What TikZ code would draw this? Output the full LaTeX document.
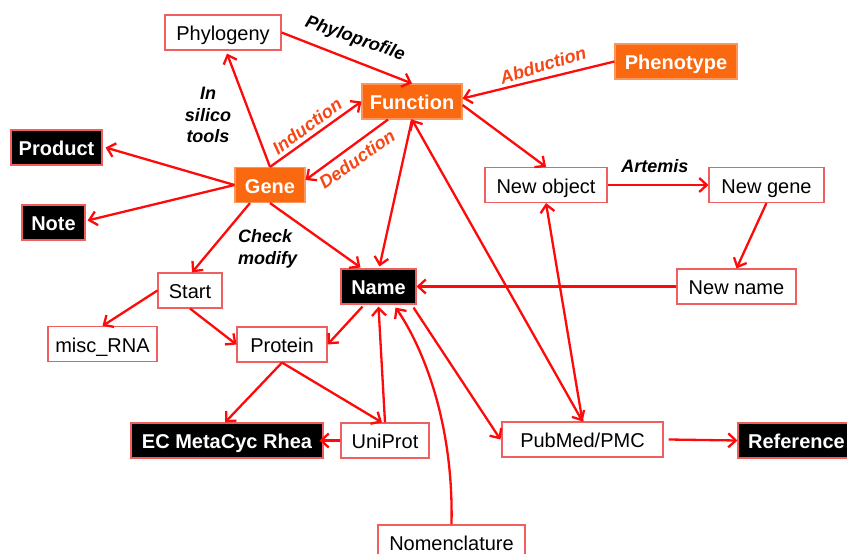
\documentclass[tikz,border=0pt]{standalone}
\usepackage{fontspec}
\setmainfont{Liberation Sans}
\usetikzlibrary{arrows.meta,calc}
\definecolor{lred}{RGB}{255,10,10}
\definecolor{boxred}{RGB}{240,95,95}
\definecolor{ofill}{RGB}{250,104,16}
\definecolor{oline}{RGB}{252,150,90}
\definecolor{olab}{RGB}{245,72,22}
\tikzset{
  wbox/.style={draw=boxred, fill=white, line width=1.1pt, minimum height=35pt, inner sep=0pt,
    text height=18pt, text depth=2pt, font=\fontsize{20}{24}\selectfont},
  bbox/.style={wbox, fill=black, text=white, font=\fontsize{20}{24}\selectfont\bfseries},
  obox/.style={wbox, draw=oline, fill=ofill, text=white, font=\fontsize{20}{24}\selectfont\bfseries},
  elab/.style={inner sep=0pt, font=\fontsize{18}{21.5}\selectfont\bfseries\itshape},
  olabel/.style={elab, text=olab},
  arr/.style={draw=lred, line width=2.3pt, -{Straight Barb[length=7.5pt,width=14pt]}},
  arrb/.style={draw=lred, line width=2.3pt, {Straight Barb[length=7.5pt,width=14pt]}-{Straight Barb[length=7.5pt,width=14pt]}}
}
\begin{document}
\begin{tikzpicture}[x=1pt,y=-1pt]
\useasboundingbox (0,0) rectangle (847,554);
\fill[white] (0,0) rectangle (847,554);

% nodes
\node[wbox, minimum width=116pt] (phylo) at (223,32.5) {Phylogeny};
\node[obox, minimum width=100pt] (func) at (412,101.5) {Function};
\node[obox, minimum width=122pt] (pheno) at (676,61.5) {Phenotype};
\node[obox, minimum width=70pt] (gene) at (270,185) {Gene};
\node[bbox, minimum width=91pt] (product) at (56.5,147.5) {Product};
\node[bbox, minimum width=63pt] (note) at (53.5,222.5) {Note};
\node[wbox, minimum width=122pt] (newobj) at (546,185) {New object};
\node[wbox, minimum width=115pt] (newgene) at (766.5,185) {New gene};
\node[wbox, minimum width=119pt] (newname) at (736.5,286.5) {New name};
\node[bbox, minimum width=75pt] (name) at (378.5,286.5) {Name};
\node[wbox, minimum width=64pt] (start) at (190,290.5) {Start};
\node[wbox, minimum width=109pt] (misc) at (102.5,344) {misc\_RNA};
\node[wbox, minimum width=90pt] (protein) at (282,344.5) {Protein};
\node[bbox, minimum width=192pt] (ec) at (227,440.5) {EC MetaCyc Rhea};
\node[wbox, minimum width=88pt] (uniprot) at (385,440.5) {UniProt};
\node[wbox, minimum width=161pt] (pubmed) at (582.5,439.5) {PubMed/PMC};
\node[bbox, minimum width=117pt] (ref) at (796.5,440.5) {Reference};
\node[wbox, minimum width=147pt] (nomen) at (451.5,542.5) {Nomenclature};

% edge labels
\node[elab, rotate=-19] (lphylo) at (355,39) {Phyloprofile};
\node[elab, align=center] (lsilico) at (208,115) {In\\silico\\tools};
\node[olabel, rotate=36] (lind) at (307,126) {Induction};
\node[olabel, rotate=35] (lded) at (357,159) {Deduction};
\node[olabel, rotate=17] (labd) at (543,65) {Abduction};
\node[elab] (lart) at (655,166) {Artemis};
\node[elab, align=left, anchor=west] (lcheck) at (238,249) {Check\\modify};

% connectors
\draw[arr] (phylo.east) -- (func.north);
\draw[arr] (gene.north) -- ([xshift=4pt,yshift=-3pt]phylo.south);
\draw[arr] (gene.north) -- (func.west);
\draw[arr] ([xshift=-24pt]func.south) -- ([yshift=5pt]gene.east);
\draw[arr] (pheno.west) -- ([yshift=3pt]func.east);
\draw[arr] (gene.west) -- ([xshift=3pt]product.east);
\draw[arr] (gene.west) -- ([xshift=2pt,yshift=2pt]note.east);
\draw[arr] ([xshift=-20pt]gene.south) -- ([xshift=2pt]start.north);
\draw[arr] (gene.south) -- ([xshift=-18pt,yshift=1pt]name.north);
\draw[arr] ([yshift=-3.5pt]func.east) -- (newobj.north);
\draw[arr] (func.south) -- ([xshift=1pt,yshift=2pt]name.north);
\draw[arrb] (func.south) -- (pubmed.north);
\draw[arr] (pubmed.north) -- (newobj.south);
\draw[arr] (newobj.east) -- (newgene.west);
\draw[arr] (newgene.south) -- (newname.north);
\draw[arr] (newname.west) -- (name.east);
\draw[arr] (start.west) -- (misc.north);
\draw[arr] (start.south) -- (protein.west);
\draw[arr] ([xshift=-16pt,yshift=-2pt]name.south) -- (protein.east);
\draw[arr] (protein.south) -- ([xshift=-2pt]ec.north);
\draw[arr] (protein.south) -- ([xshift=-3pt]uniprot.north);
\draw[arr] (uniprot.north) -- ([yshift=-2pt]name.south);
\draw[arr] (uniprot.west) -- ([xshift=-4pt]ec.east);
\draw[arr] (nomen.north) .. controls (454,410) and (415,335) .. ([xshift=17pt,yshift=-3pt]name.south);
\draw[arr] ([xshift=35pt,yshift=-3pt]name.south) -- ([xshift=-1pt]pubmed.west);
\draw[arr] ([xshift=5pt]pubmed.east) -- (ref.west);
\end{tikzpicture}
\end{document}
